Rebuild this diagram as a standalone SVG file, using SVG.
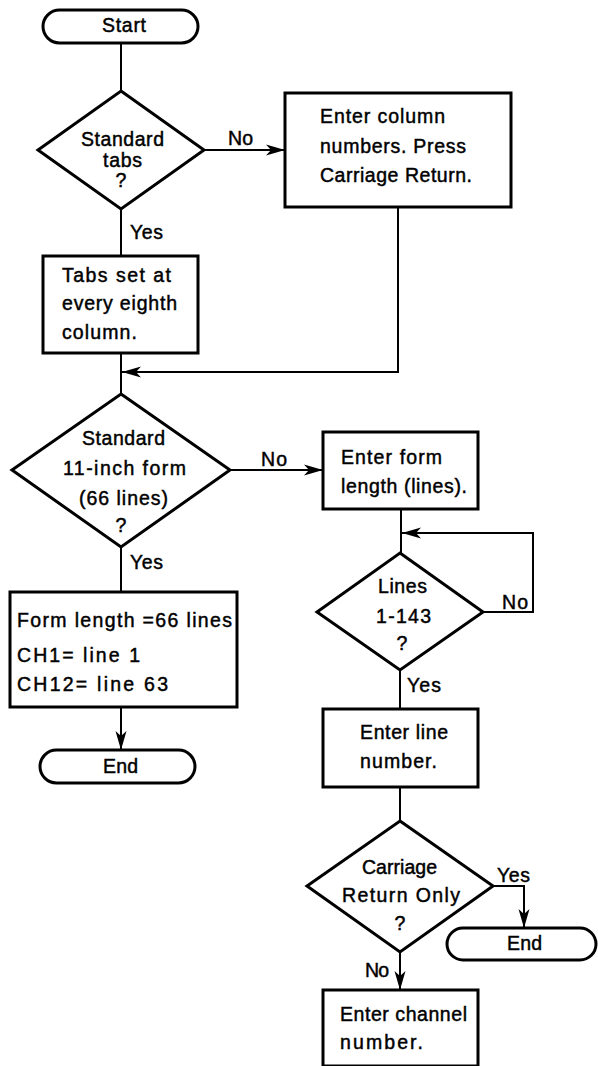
<svg xmlns="http://www.w3.org/2000/svg" width="598" height="1066" viewBox="0 0 598 1066">
<style>
.shape{fill:#fff;stroke:#000;stroke-width:3;stroke-linejoin:miter}
.conn{fill:none;stroke:#000;stroke-width:2}
text{font-family:"Liberation Sans",Arial,sans-serif;font-size:19.5px;fill:#000;stroke:#000;stroke-width:0.45}
.c{text-anchor:middle}
</style>
<defs>
<marker id="ah" markerUnits="userSpaceOnUse" markerWidth="20" markerHeight="12" refX="19" refY="6" orient="auto">
<path d="M0,0.5 L19,6 L0,11.5 L5,6 Z" fill="#000"/>
</marker>
</defs>
<rect width="598" height="1066" fill="#fff"/>
<g id="connectors">
<line class="conn" x1="121" y1="43" x2="121" y2="91"/>
<line class="conn" x1="204" y1="150" x2="285" y2="150" marker-end="url(#ah)"/>
<line class="conn" x1="121" y1="209" x2="121" y2="256"/>
<line class="conn" x1="121" y1="353" x2="121" y2="394"/>
<polyline class="conn" points="398,207 398,372 122,372" marker-end="url(#ah)"/>
<line class="conn" x1="230" y1="470" x2="323" y2="470" marker-end="url(#ah)"/>
<line class="conn" x1="121" y1="547" x2="121" y2="592"/>
<line class="conn" x1="121" y1="707" x2="121" y2="750" marker-end="url(#ah)"/>
<line class="conn" x1="401" y1="509" x2="401" y2="553"/>
<polyline class="conn" points="483,612 533,612 533,533 402,533" marker-end="url(#ah)"/>
<line class="conn" x1="400" y1="670" x2="400" y2="709"/>
<line class="conn" x1="400" y1="787" x2="400" y2="821"/>
<polyline class="conn" points="493,886 524,886 524,928" marker-end="url(#ah)"/>
<line class="conn" x1="400" y1="952" x2="400" y2="990" marker-end="url(#ah)"/>
</g>
<g id="labels">
<text x="228" y="145" textLength="25">No</text>
<text x="130" y="239" textLength="33">Yes</text>
<text x="261" y="466" textLength="26">No</text>
<text x="130" y="569" textLength="33">Yes</text>
<text x="502" y="609" textLength="26">No</text>
<text x="407" y="692" textLength="34">Yes</text>
<text x="497" y="882" textLength="33">Yes</text>
<text x="365" y="977" textLength="24">No</text>
</g>
<g id="start">
<rect class="shape" x="43" y="10" width="155" height="33" rx="16.5"/>
<text x="102" y="32" textLength="44">Start</text>
</g>
<g id="dec-tabs">
<polygon class="shape" points="121,91 204,150 121,209 38,150"/>
<text x="81" y="146" textLength="83">Standard</text>
<text x="103" y="167" textLength="39">tabs</text>
<text class="c" x="121" y="187">?</text>
</g>
<g id="enter-columns">
<rect class="shape" x="285" y="93" width="226" height="114"/>
<text x="320" y="123" textLength="125">Enter column</text>
<text x="320" y="153" textLength="146">numbers. Press</text>
<text x="320" y="182" textLength="152">Carriage Return.</text>
</g>
<g id="tabs-set">
<rect class="shape" x="43" y="256" width="155" height="97"/>
<text x="62" y="282" textLength="109">Tabs set at</text>
<text x="62" y="310" textLength="115">every eighth</text>
<text x="62" y="339" textLength="75">column.</text>
</g>
<g id="dec-form">
<polygon class="shape" points="121,394 230,470 121,547 12,470"/>
<text x="82" y="445" textLength="83">Standard</text>
<text x="63" y="475" textLength="123">11-inch form</text>
<text x="79" y="505" textLength="89">(66 lines)</text>
<text class="c" x="121" y="532">?</text>
</g>
<g id="form-66">
<rect class="shape" x="10" y="592" width="227" height="115"/>
<text x="17" y="627" textLength="215">Form length =66 lines</text>
<text x="17" y="662" textLength="123">CH1= line 1</text>
<text x="17" y="691" textLength="151">CH12= line 63</text>
</g>
<g id="end1">
<rect class="shape" x="40" y="750" width="155" height="33" rx="16.5"/>
<text x="103" y="773" textLength="35">End</text>
</g>
<g id="enter-form-length">
<rect class="shape" x="323" y="432" width="155" height="77"/>
<text x="341" y="464" textLength="101">Enter form</text>
<text x="341" y="493" textLength="126">length (lines).</text>
</g>
<g id="dec-lines">
<polygon class="shape" points="400,553 483,612 400,670 317,612"/>
<text x="378" y="593" textLength="49">Lines</text>
<text x="376" y="623" textLength="55">1-143</text>
<text class="c" x="402" y="650">?</text>
</g>
<g id="enter-line">
<rect class="shape" x="323" y="709" width="155" height="78"/>
<text x="360" y="739" textLength="88">Enter line</text>
<text x="360" y="768" textLength="77">number.</text>
</g>
<g id="dec-cr">
<polygon class="shape" points="400,821 493,886 400,952 307,886"/>
<text x="362" y="874" textLength="75">Carriage</text>
<text x="342" y="902" textLength="118">Return  Only</text>
<text class="c" x="400" y="930">?</text>
</g>
<g id="end2">
<rect class="shape" x="447" y="928" width="149" height="32" rx="16"/>
<text x="507" y="950" textLength="35">End</text>
</g>
<g id="enter-channel">
<rect class="shape" x="323" y="990" width="155" height="76"/>
<text x="340" y="1021" textLength="127">Enter channel</text>
<text x="340" y="1049" textLength="83">number.</text>
</g>
</svg>
